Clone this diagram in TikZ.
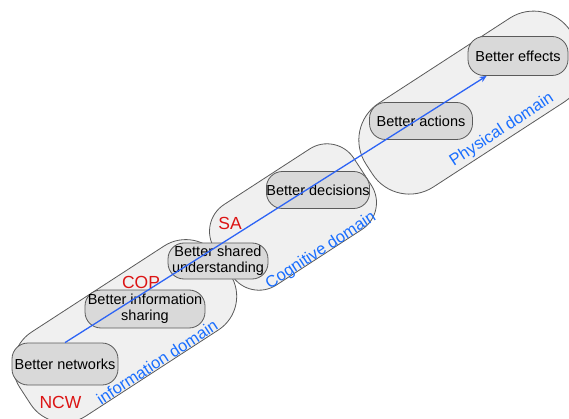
\documentclass[tikz,border=0pt]{standalone}
\usepackage{fontspec}
\setmainfont{Liberation Sans}
\usetikzlibrary{arrows.meta}
\definecolor{domfill}{RGB}{240,240,240}
\definecolor{domline}{RGB}{90,90,90}
\definecolor{boxfill}{RGB}{217,217,217}
\definecolor{boxline}{RGB}{90,90,90}
\definecolor{redlab}{RGB}{220,20,20}
\definecolor{bluelab}{RGB}{25,110,255}
\definecolor{blueline}{RGB}{45,100,245}
\tikzset{
  x=1pt, y=-1pt,
  domshape/.style={rectangle, rotate=33, inner sep=0pt},
  domarea/.style={domshape, fill=domfill},
  domedge/.style={domshape, draw=domline, line width=0.8pt},
  infodom/.style={minimum width=238pt, minimum height=100pt, rounded corners=40pt},
  cogdom/.style={minimum width=166pt, minimum height=96pt, rounded corners=32pt},
  physdom/.style={minimum width=244pt, minimum height=100pt, rounded corners=44pt},
  better/.style={rectangle, rounded corners=16pt, draw=boxline, line width=0.8pt, fill=boxfill,
    inner sep=0pt, align=center, font=\fontsize{14.5}{16}\selectfont},
  redtag/.style={text=redlab, font=\fontsize{17.5}{20}\selectfont, inner sep=0pt},
  domlabel/.style={text=bluelab, font=\fontsize{16.5}{19}\selectfont, rotate=33, inner sep=0pt},
  flow/.style={draw=blueline, line width=1.3pt, -{Stealth[length=7pt,width=6pt]}}
}
\begin{document}
\begin{tikzpicture}
\useasboundingbox (0,0) rectangle (569,419);
\clip (0,0) rectangle (569,419);
% domain fills
\node[domarea, infodom] (info) at (125,331) {};
\node[domarea, cogdom] (cog) at (293,217) {};
\node[domarea, physdom] (phys) at (471.5,102.6) {};
% domain outlines
\node[domedge, infodom] (infoedge) at (info.center) {};
\node[domedge, cogdom] (cogedge) at (cog.center) {};
\node[domedge, physdom] (physedge) at (phys.center) {};
% steps
\node[better, minimum width=106pt, minimum height=42pt] (nw) at (65,364) {Better networks};
\node[better, minimum width=120pt, minimum height=38pt] (nis) at (145,309) {Better information\\sharing};
\node[better, minimum width=100pt, minimum height=36pt] (nsu) at (218,261) {Better shared\\understanding};
\node[better, minimum width=103pt, minimum height=37pt] (nd) at (318,190) {Better decisions};
\node[better, minimum width=103pt, minimum height=37pt] (na) at (421,121) {Better actions};
\node[better, minimum width=100pt, minimum height=39pt] (ne) at (518,56) {Better effects};
% arrow
\draw[flow] (nw.north) -- (ne);
% red labels
\node[redtag] (ncw) at (60.5,402) {NCW};
\node[redtag] (cop) at (141,282) {COP};
\node[redtag] (sa) at (230,223) {SA};
% domain labels
\node[domlabel] (infolab) at (157,362) {information domain};
\node[domlabel] (coglab) at (321,251) {Cognitive domain};
\node[domlabel] (physlab) at (502,130) {Physical domain};
\end{tikzpicture}
\end{document}
